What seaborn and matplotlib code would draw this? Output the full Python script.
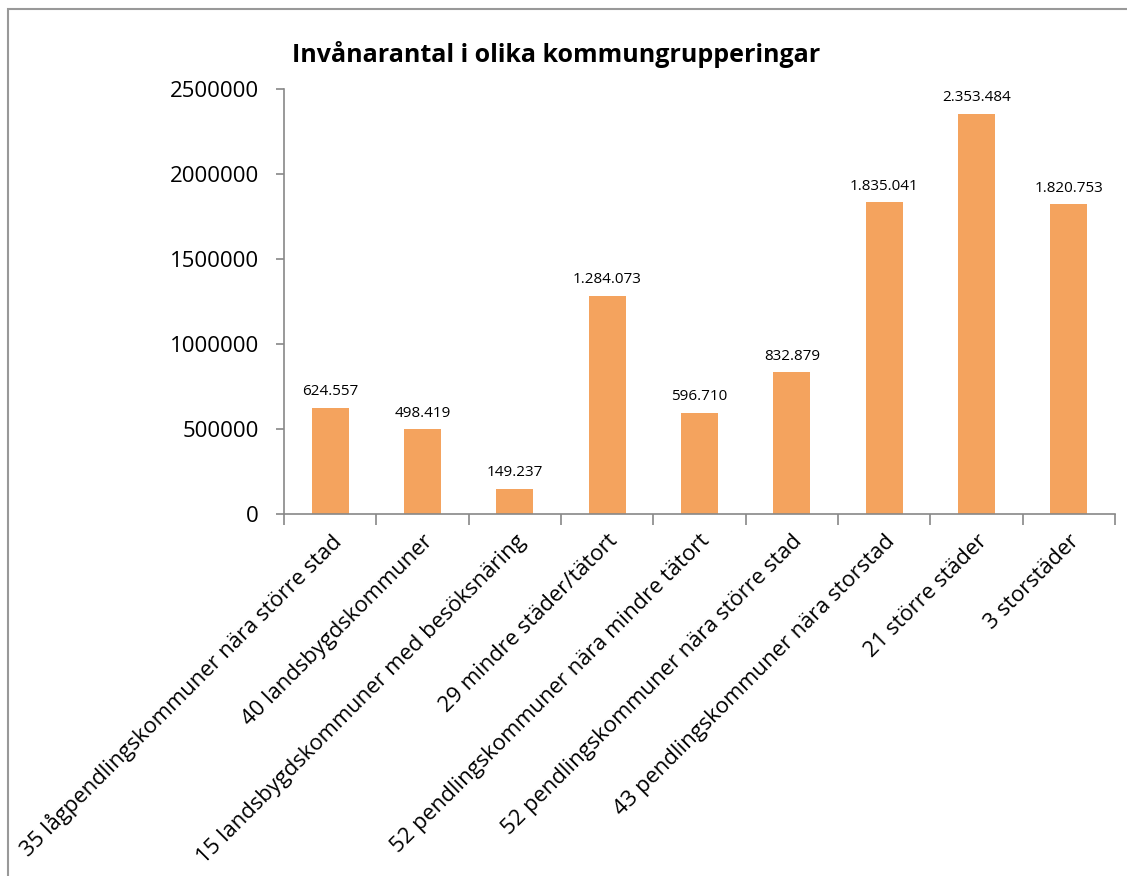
import matplotlib
matplotlib.use("Agg")
import matplotlib.pyplot as plt
import numpy as np
import pandas as pd
import seaborn as sns
from matplotlib.patches import Rectangle

# === Data ===
categories = [
    "35 lågpendlingskommuner nära större stad",
    "40 landsbygdskommuner",
    "15 landsbygdskommuner med besöksnäring",
    "29 mindre städer/tätort",
    "52 pendlingskommuner nära mindre tätort",
    "52 pendlingskommuner nära större stad",
    "43 pendlingskommuner nära storstad",
    "21 större städer",
    "3 storstäder",
]
inhabitants = [624557, 498419, 149237, 1284073, 596710, 832879, 1835041, 2353484, 1820753]
yticks = [0, 500000, 1000000, 1500000, 2000000, 2500000]

df = pd.DataFrame({"grupp": categories, "invanare": inhabitants})

sns.set_theme(style="white")
plt.rcParams["font.family"] = ["Open Sans", "DejaVu Sans"]
plt.rcParams["text.color"] = "black"
plt.rcParams["xtick.labelcolor"] = "black"
plt.rcParams["ytick.labelcolor"] = "black"

fig = plt.figure(figsize=(11.27, 8.76), dpi=100)
ax = fig.add_axes([284 / 1127, 1 - 514 / 876, (1115 - 284) / 1127, (514 - 89) / 876])

sns.barplot(data=df, x="grupp", y="invanare", color="#F4A35E", saturation=1,
            width=0.4, ax=ax, edgecolor="none")

# data labels with dot as thousands separator
for i, v in enumerate(inhabitants):
    ax.text(i, v + 50000, f"{v:,}".replace(",", "."), ha="center", va="bottom",
            fontsize=11, color="black")

ax.set_ylim(0, 2500000)
ax.set_xlim(-0.5, len(categories) - 0.5)
ax.set_yticks(yticks)
ax.set_yticklabels([str(t) for t in yticks], fontsize=16)
ax.set_xlabel("")
ax.set_ylabel("")

ax.set_xticks(np.arange(len(categories)))
ax.set_xticklabels(categories, rotation=45, ha="right", rotation_mode="anchor", fontsize=15.8)
ax.set_xticks(np.arange(len(categories) + 1) - 0.5, minor=True)
ax.tick_params(axis="x", which="major", length=0, pad=12)
ax.tick_params(axis="x", which="minor", length=8, color="#888888", width=1.2, bottom=True)
ax.tick_params(axis="y", length=6, color="#888888", width=1.2, left=True, pad=12)

for s in ["top", "right"]:
    ax.spines[s].set_visible(False)
for s in ["left", "bottom"]:
    ax.spines[s].set_color("#888888")
    ax.spines[s].set_linewidth(1.2)

fig.text(556 / 1127, 1 - 55 / 876, "Invånarantal i olika kommungrupperingar",
         ha="center", va="center", fontsize=18, fontweight="bold")

# chart frame (cut at right and bottom)
fig.patches.append(Rectangle((8 / 1127, -0.05), 1.2, 1 - 9 / 876 + 0.05,
                             transform=fig.transFigure, fill=False,
                             edgecolor="#999999", linewidth=1.5))

fig.savefig("out.png", dpi=100)
